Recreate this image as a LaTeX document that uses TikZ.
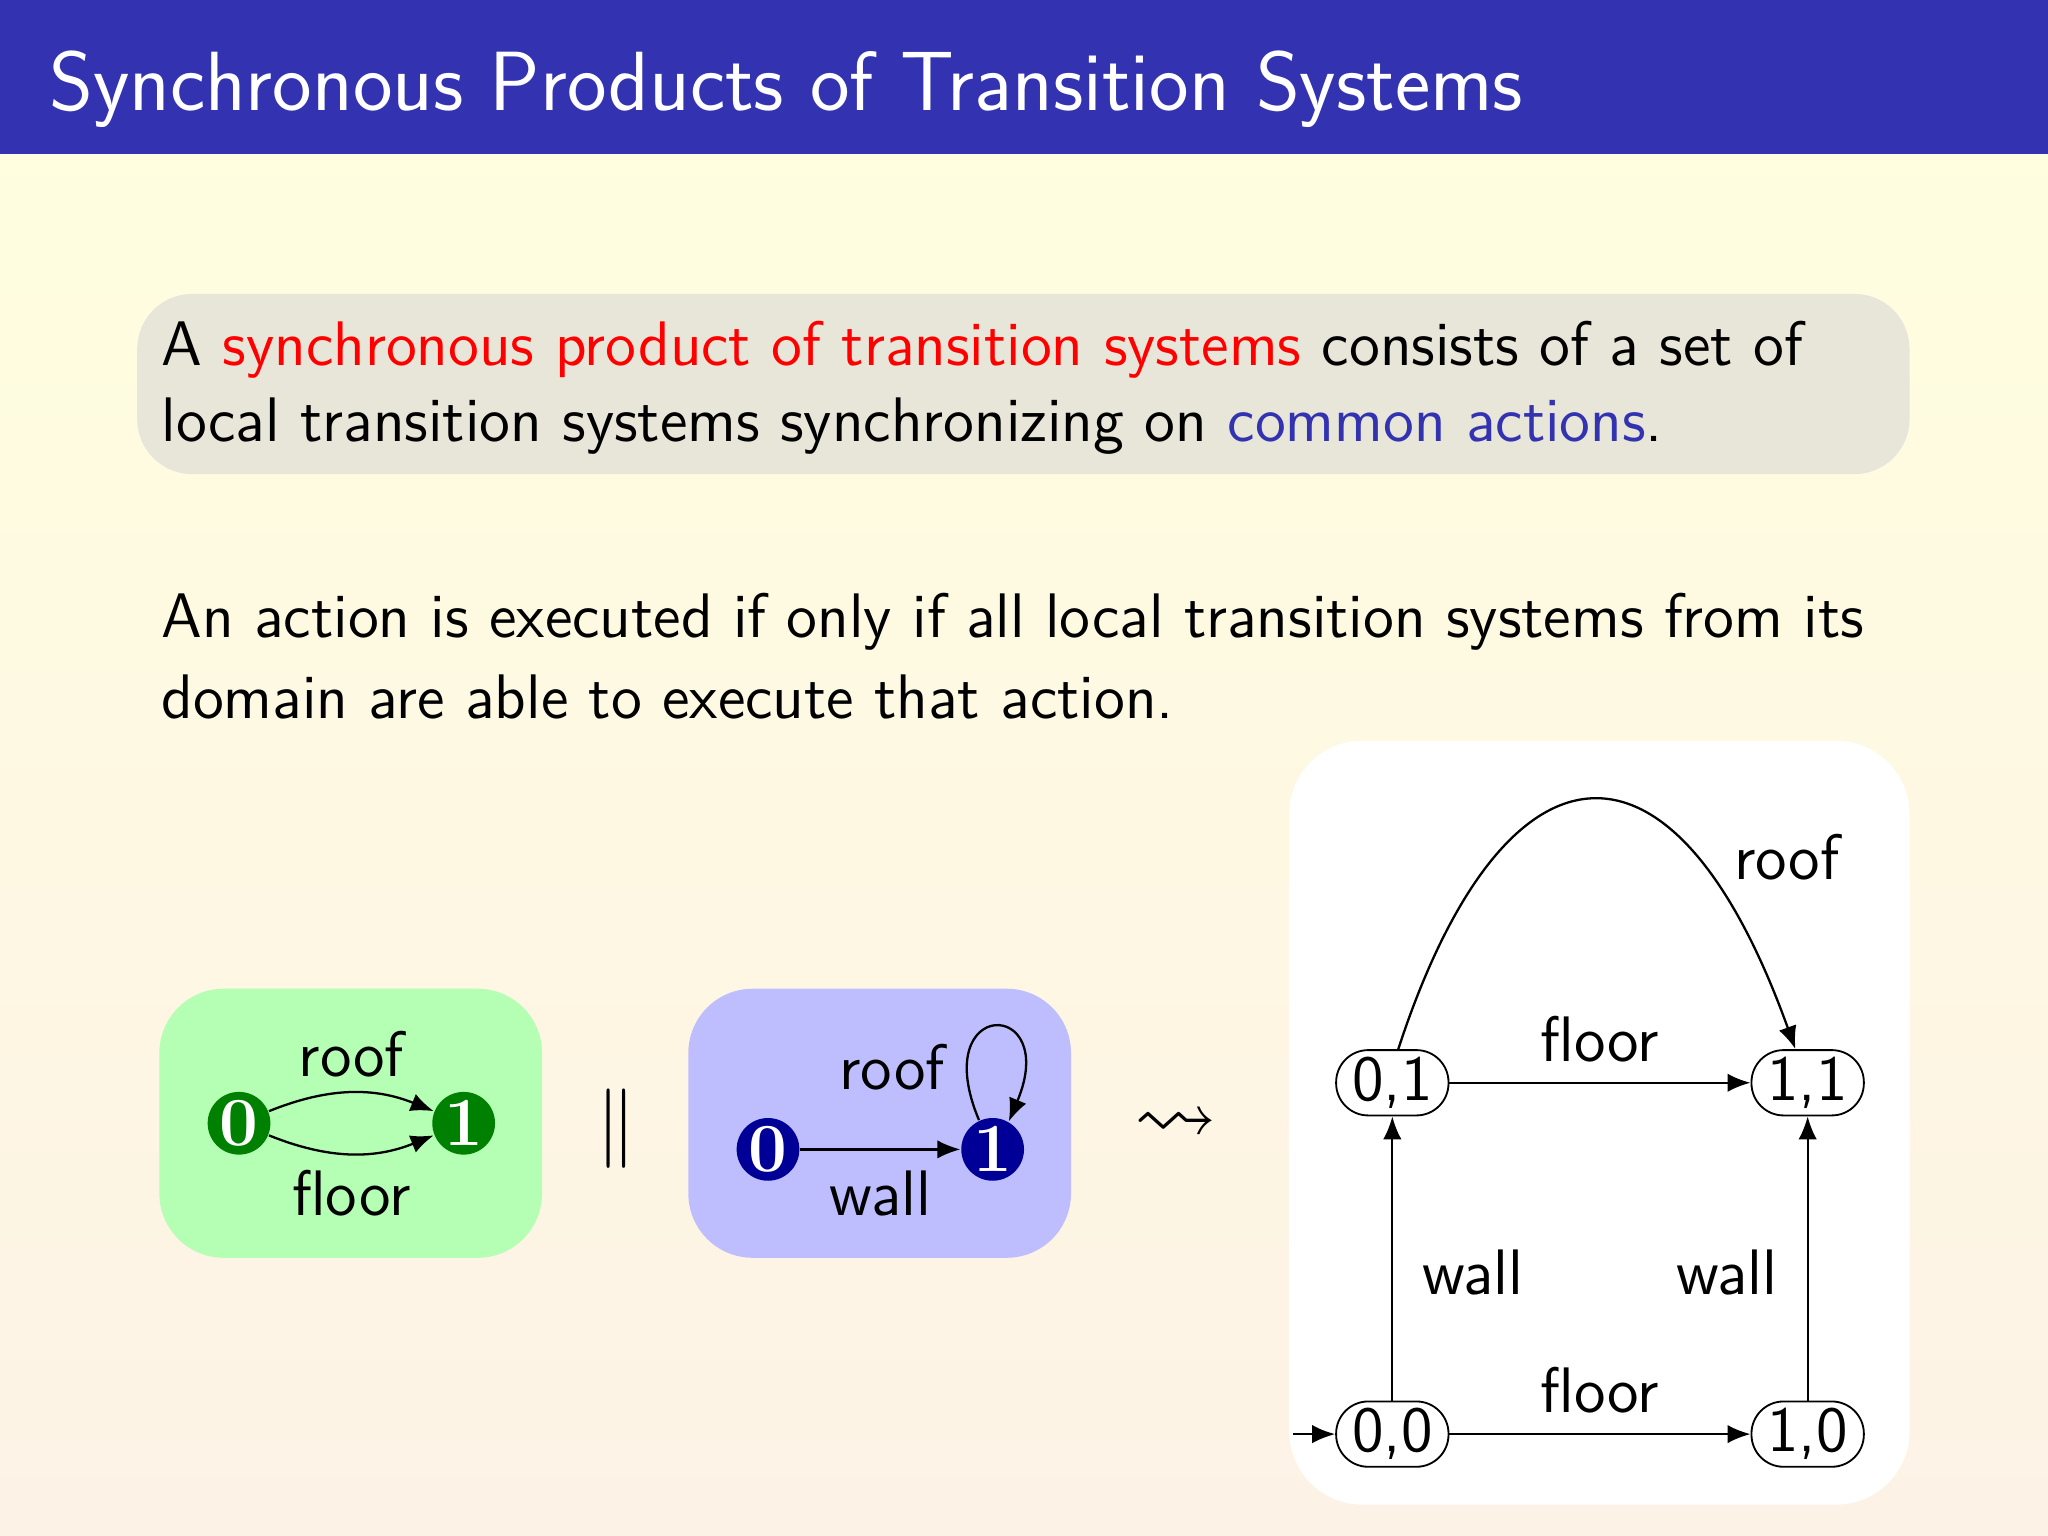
\documentclass[tikz,border=0pt]{standalone}
\usepackage{amssymb}
\usetikzlibrary{arrows.meta,decorations.pathmorphing}
\definecolor{titleblue}{RGB}{51,51,178}
\definecolor{bgtop}{RGB}{255,255,222}
\definecolor{bgbot}{RGB}{253,242,230}
\definecolor{boxgray}{RGB}{232,230,216}
\definecolor{greenbox}{RGB}{180,255,180}
\definecolor{bluebox}{RGB}{190,190,255}
\definecolor{dgreen}{RGB}{0,128,0}
\definecolor{navy}{RGB}{0,0,150}
\definecolor{txtblue}{RGB}{51,51,178}
\tikzset{
  lstate/.style={circle,fill=#1,text=white,inner sep=0pt,minimum size=0.48cm,font=\fontsize{15}{16}\selectfont\bfseries},
  pstate/.style={draw,rounded corners=7pt,minimum width=0.86cm,minimum height=0.5cm,inner sep=1pt,font=\fontsize{14}{16}\selectfont\sffamily},
  lab/.style={font=\fontsize{14}{16}\selectfont\sffamily},
  body/.style={anchor=west,inner sep=0pt,font=\fontsize{13.7}{18}\selectfont\sffamily},
  edge/.style={-{Latex[length=5pt,width=4pt]},line width=0.5pt}
}
\begin{document}
\begin{tikzpicture}[x=0.01cm,y=-0.01cm]
\useasboundingbox (0,0) rectangle (1568,1176);
\shade[top color=bgtop,bottom color=bgbot] (0,0) rectangle (1568,1176);
\fill[titleblue] (0,0) rectangle (1568,118);
\node[anchor=west,inner sep=0pt,text=white,font=\fontsize{18.3}{22}\selectfont\sffamily] (title) at (37,68) {Synchronous Products of Transition Systems};
\fill[boxgray,rounded corners=12pt] (105,225) rectangle (1462,363);
\node[body] (l1) at (123,268) {A \textcolor{red}{synchronous product of transition systems} consists of a set of};
\node[body] (l2) at (123,326) {local transition systems synchronizing on \textcolor{txtblue}{common actions}.};
\node[body] (p1) at (123,476) {An action is executed if only if all local transition systems from its};
\node[body] (p2) at (123,534) {domain are able to execute that action.};
% green
\fill[greenbox,rounded corners=14pt] (122,757) rectangle (415,963);
\node[lstate=dgreen] (g0) at (183,860) {0};
\node[lstate=dgreen] (g1) at (355,860) {1};
\draw[edge] (g0) to[bend left=22] node[lab,above=0pt] {roof} (g1);
\draw[edge] (g0) to[bend right=22] node[lab,below=0pt] {floor} (g1);
\node[font=\fontsize{18}{20}\selectfont] (par) at (472,864) {$\|$};
% blue
\fill[bluebox,rounded corners=14pt] (527,757) rectangle (820,963);
\node[lstate=navy] (b0) at (588,880) {0};
\node[lstate=navy] (b1) at (760,880) {1};
\draw[edge] (b0) -- node[lab,below=1pt] {wall} (b1);
\draw[edge] (b1.115) .. controls +(-40,-95) and +(40,-95) .. (b1.60);
\node[lab] (rooflab) at (683,817) {roof};
\node[font=\fontsize{18}{20}\selectfont] (lead) at (900,862) {$\leadsto$};
% product
\fill[white,rounded corners=16pt] (987,567) rectangle (1462,1152);
\node[pstate] (s01) at (1066,829) {0,1};
\node[pstate] (s11) at (1384,829) {1,1};
\node[pstate] (s00) at (1066,1098) {0,0};
\node[pstate] (s10) at (1384,1098) {1,0};
\coordinate (init) at (990,1098);
\draw[edge] (init) -- (s00);
\draw[edge] (s01) -- node[lab,above=1pt] {floor} (s11);
\draw[edge] (s00) -- node[lab,above=1pt] {floor} (s10);
\draw[edge] (s00) -- node[lab,right=3pt,pos=0.45] {wall} (s01);
\draw[edge] (s10) -- node[lab,left=3pt,pos=0.45] {wall} (s11);
\draw[edge] (s01.80) .. controls (1150,560) and (1280,540) .. (s11.110);
\node[lab] (rooflab2) at (1368,656) {roof};
\end{tikzpicture}
\end{document}
